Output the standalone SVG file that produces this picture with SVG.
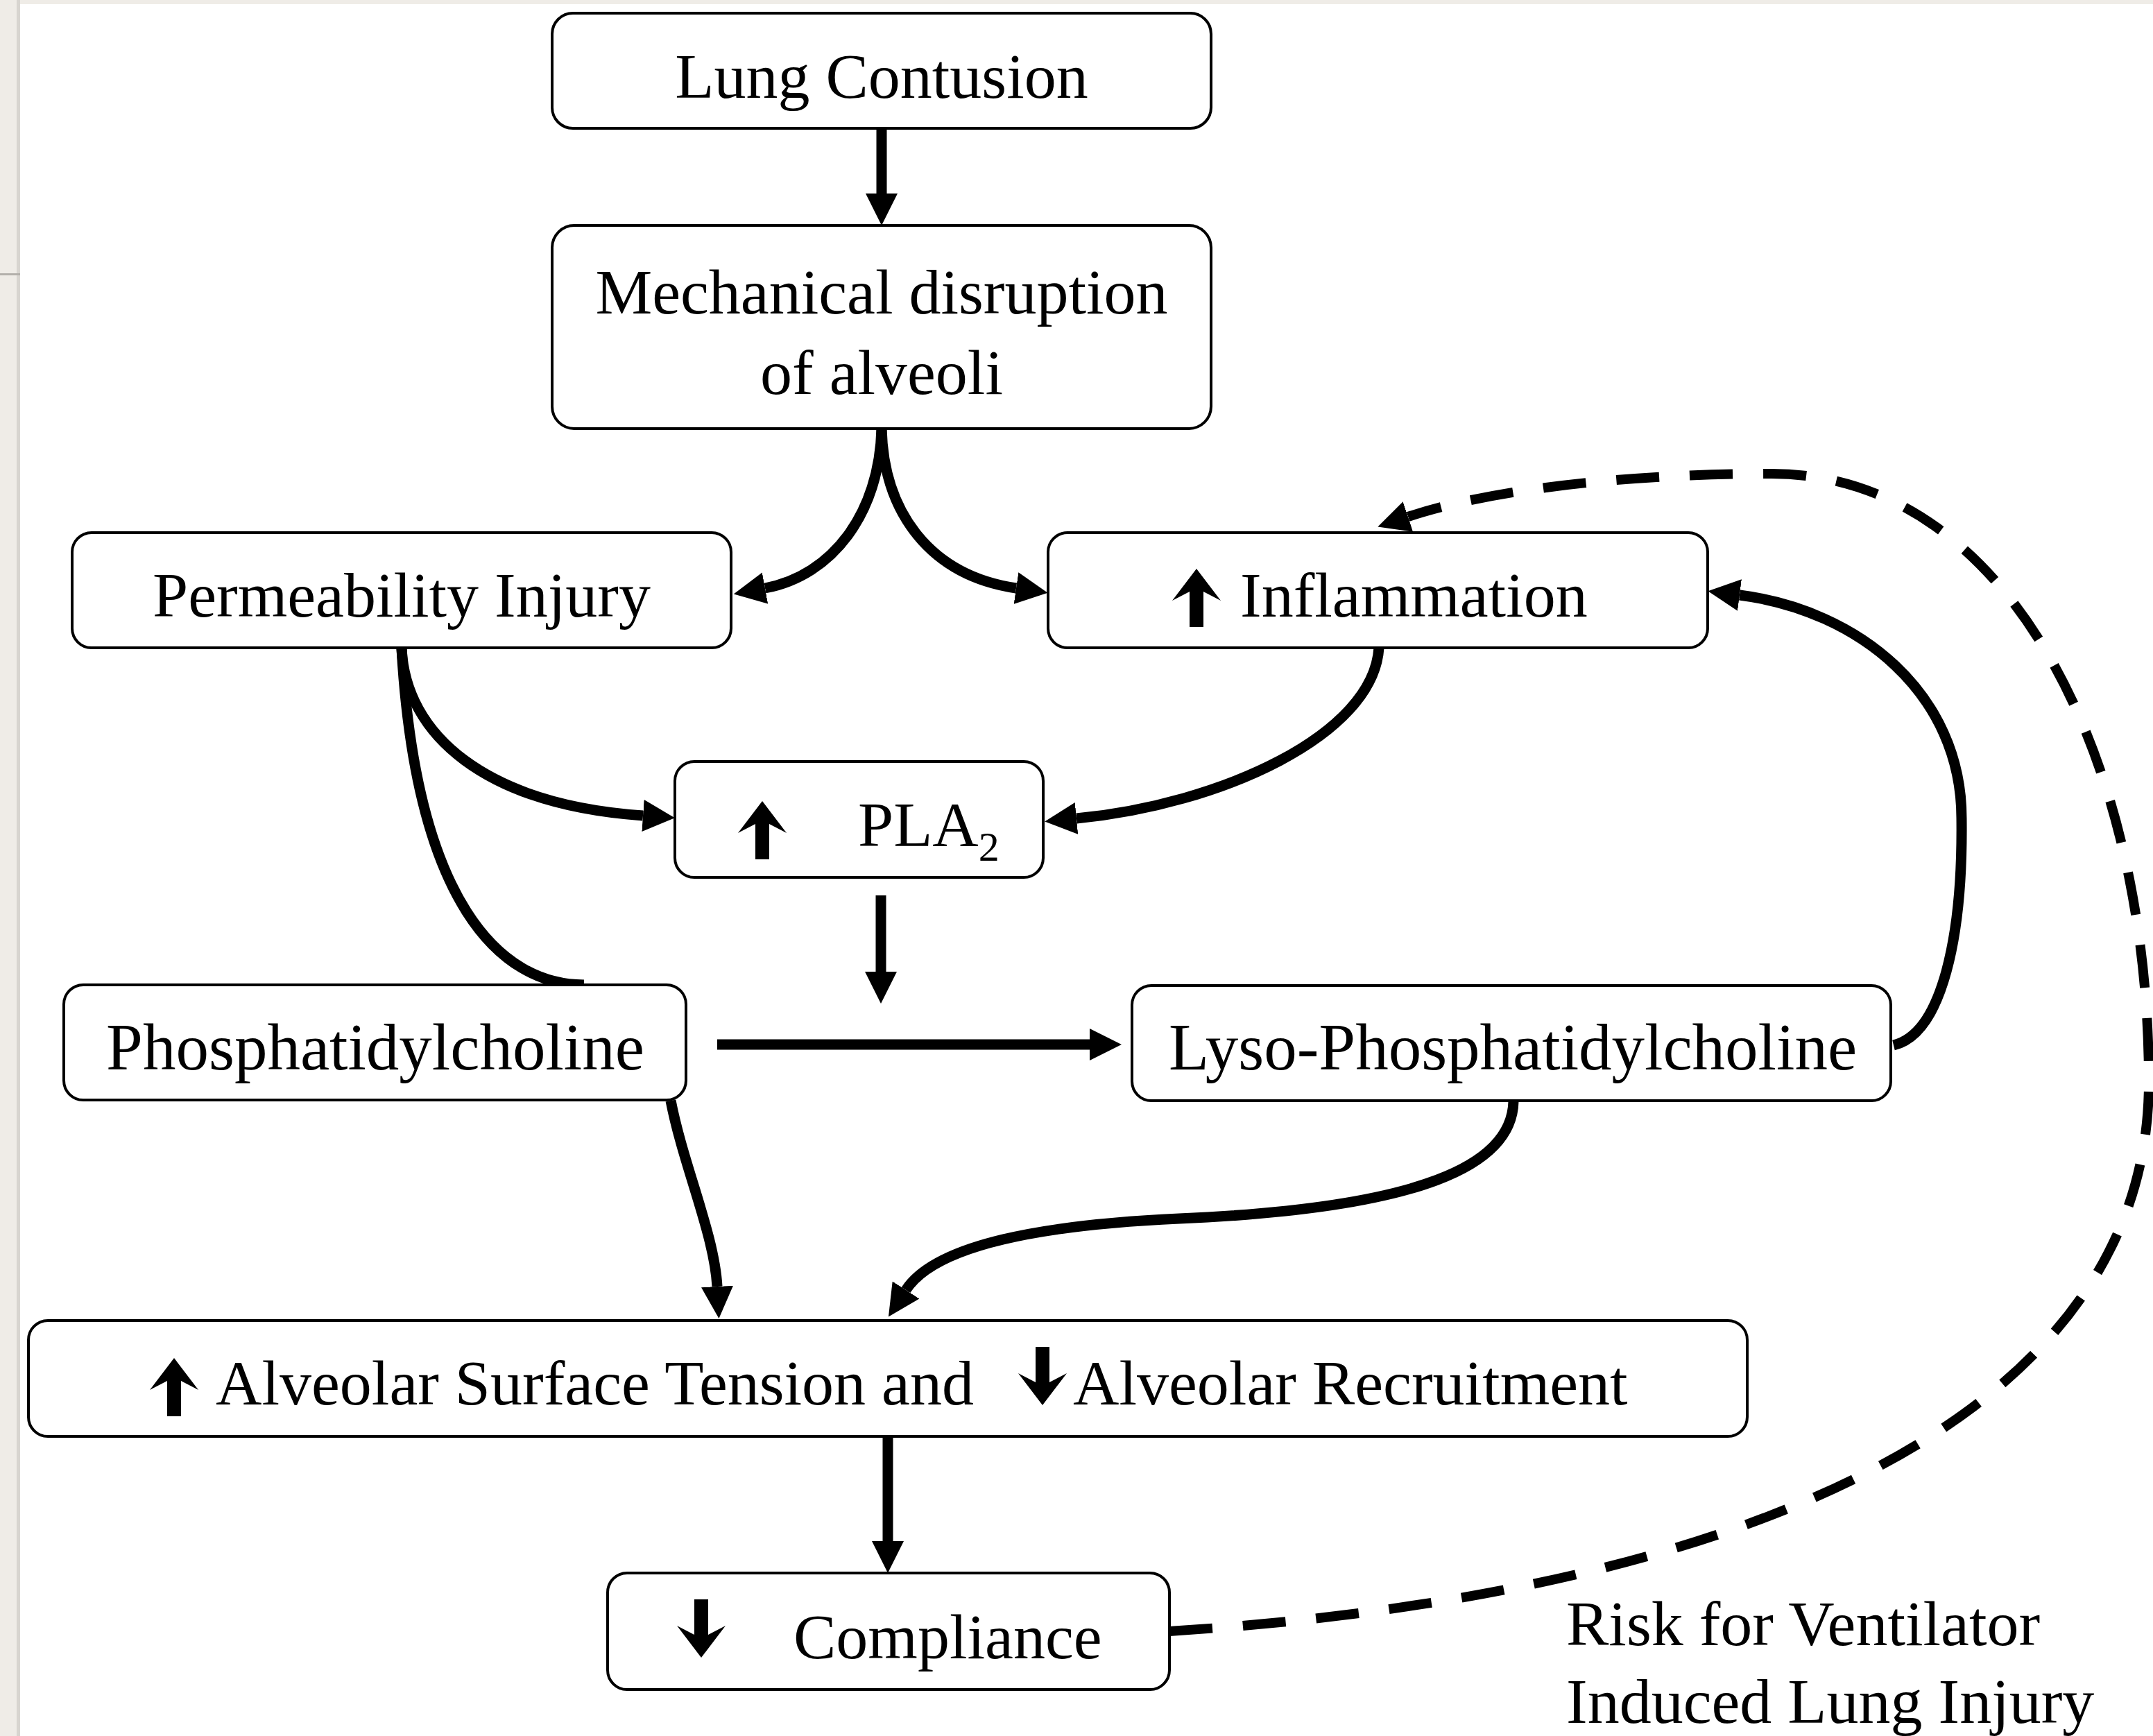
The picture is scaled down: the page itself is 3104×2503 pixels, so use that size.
<svg xmlns="http://www.w3.org/2000/svg" xmlns:xlink="http://www.w3.org/1999/xlink" width="3104" height="2503" viewBox="0 0 3104 2503">
<style>
.box{fill:#fff;stroke:#000;stroke-width:4}
.t{font-family:"Liberation Serif","Times New Roman",serif;font-size:92px;fill:#000}
.tb{font-size:95px}
.c{fill:none;stroke:#000;stroke-width:15}
.d{fill:none;stroke:#000;stroke-width:14;stroke-dasharray:62 44}
.ic{fill:#000}
</style>
<defs>
<marker id="ah" markerUnits="userSpaceOnUse" viewBox="0 0 46 46" markerWidth="46" markerHeight="46" refX="0" refY="23" orient="auto"><path d="M0,0 L46,23 L0,46 Z" fill="#000"/></marker>
<path id="up" d="M35,0 L70,46 L45,33 L45,84 L25,84 L25,33 L0,46 Z"/>
<path id="down" d="M35,84 L70,38 L45,51 L45,0 L25,0 L25,51 L0,38 Z"/>
</defs>
<g id="background">
<rect x="0" y="0" width="3104" height="2503" fill="#fff"/>
<rect x="0" y="0" width="3104" height="6" fill="#efece7"/>
<rect x="0" y="0" width="29" height="2503" fill="#efece7"/>
<rect x="24" y="0" width="5" height="2503" fill="#d8d5d0"/>
<rect x="0" y="394" width="29" height="3" fill="#b3b0ab"/>
</g>
<g id="connectors">
<line class="c" x1="1271" y1="185" x2="1271" y2="279" marker-end="url(#ah)"/>
<path class="c" d="M1271,618 C1268,740 1200,830 1103,848" marker-end="url(#ah)"/>
<path class="c" d="M1271,618 C1274,740 1342,830 1465,848" marker-end="url(#ah)"/>
<path class="c" d="M579,935 C585,1060 700,1160 927,1176" marker-end="url(#ah)"/>
<path class="c" d="M579,935 C600,1300 720,1420 842,1420"/>
<path class="c" d="M1988,934 C1980,1060 1760,1160 1552,1180" marker-end="url(#ah)"/>
<line class="c" x1="1270" y1="1291" x2="1270" y2="1401" marker-end="url(#ah)"/>
<line class="c" x1="1034" y1="1506" x2="1571" y2="1506" marker-end="url(#ah)"/>
<path class="c" d="M2730,1507 C2800,1490 2830,1350 2828,1180 C2828,1000 2680,880 2508,858" marker-end="url(#ah)"/>
<path class="c" d="M967,1587 C985,1680 1030,1780 1034,1855" marker-end="url(#ah)"/>
<path class="c" d="M2182,1588 C2180,1680 2050,1742 1700,1757 C1480,1767 1345,1800 1306,1860" marker-end="url(#ah)"/>
<line class="c" x1="1280" y1="2072" x2="1280" y2="2222" marker-end="url(#ah)"/>
<path class="d" d="M1686,2352 C2500,2300 3098,2050 3098,1560 C3098,1100 2900,683 2554,683 C2350,683 2150,705 2030,745" marker-end="url(#ah)"/>
</g>
<g id="lung-contusion">
<rect class="box" x="796" y="19" width="950" height="166" rx="30"/>
<text class="t" x="1271" y="141" text-anchor="middle">Lung Contusion</text>
</g>
<g id="mechanical-disruption">
<rect class="box" x="796" y="325" width="950" height="293" rx="32"/>
<text class="t" x="1271" y="452" text-anchor="middle">Mechanical disruption</text>
<text class="t" x="1271" y="568" text-anchor="middle">of alveoli</text>
</g>
<g id="permeability-injury">
<rect class="box" x="104" y="768" width="950" height="166" rx="28"/>
<text class="t" x="579" y="889" text-anchor="middle">Permeability Injury</text>
</g>
<g id="inflammation">
<rect class="box" x="1511" y="768" width="951" height="166" rx="28"/>
<use href="#up" class="ic" x="1690" y="820"/>
<text class="t" x="1788" y="889">Inflammation</text>
</g>
<g id="pla2">
<rect class="box" x="973" y="1098" width="531" height="167" rx="28"/>
<use href="#up" class="ic" x="1064" y="1155"/>
<text class="t" x="1237" y="1220">PLA<tspan font-size="60" dy="21">2</tspan></text>
</g>
<g id="phosphatidylcholine">
<rect class="box" x="92" y="1420" width="897" height="166" rx="28"/>
<text class="t tb" x="541" y="1542" text-anchor="middle">Phosphatidylcholine</text>
</g>
<g id="lyso-phosphatidylcholine">
<rect class="box" x="1632" y="1421" width="1094" height="166" rx="28"/>
<text class="t tb" x="2181" y="1542" text-anchor="middle">Lyso-Phosphatidylcholine</text>
</g>
<g id="alveolar-surface-tension">
<rect class="box" x="41" y="1904" width="2478" height="167" rx="28"/>
<use href="#up" class="ic" x="216" y="1958"/>
<text class="t" x="311" y="2025">Alveolar Surface Tension and</text>
<use href="#down" class="ic" x="1468" y="1942"/>
<text class="t" x="1547" y="2025">Alveolar Recruitment</text>
</g>
<g id="compliance">
<rect class="box" x="876" y="2268" width="810" height="168" rx="28"/>
<use href="#down" class="ic" x="976" y="2306"/>
<text class="t" x="1144" y="2391">Compliance</text>
</g>
<g id="risk-label">
<text class="t" x="2258" y="2372">Risk for Ventilator</text>
<text class="t" x="2258" y="2484">Induced Lung Injury</text>
</g>
</svg>
